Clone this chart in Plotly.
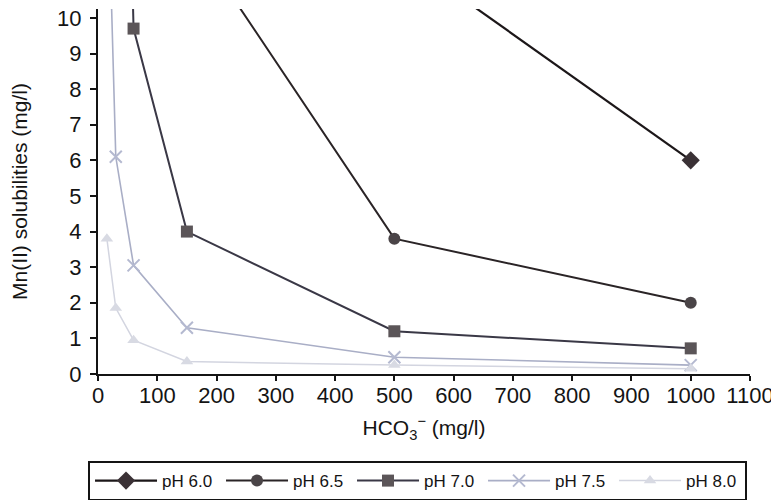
import plotly.graph_objects as go

# HCO3- concentrations (mg/l)
hco3 = [15, 30, 60, 150, 500, 1000]

# Mn(II) solubilities (mg/l) per pH; None = no point
ph60 = [None, None, None, None, 11.9, 6.0]
ph65 = [None, None, None, 12.5, 3.8, 2.0]
ph70 = [None, 30.0, 9.7, 4.0, 1.2, 0.72]
ph75 = [15.0, 6.1, 3.05, 1.3, 0.47, 0.25]
ph80 = [3.8, 1.85, 0.95, 0.35, 0.25, 0.15]

series_names = ["pH 6.0", "pH 6.5", "pH 7.0", "pH 7.5", "pH 8.0"]
series_vals = [ph60, ph65, ph70, ph75, ph80]
line_colors = ["#1c1719", "#2a2426", "#3a3846", "#a9aec6", "#d3d5e0"]
marker_colors = ["#3a3135", "#4a4447", "#5b5558", "#b4b9d0", "#d8dae3"]
symbols = ["diamond", "circle", "square", "x-thin", "triangle-up"]
sizes = [14, 12, 12, 12, 11]
widths = [2.2, 2.0, 2.0, 1.6, 1.5]

FONT = "Liberation Sans, Arial, sans-serif"

fig = go.Figure()
for name, vals, lc, mc, sym, sz, w in zip(series_names, series_vals, line_colors,
                                         marker_colors, symbols, sizes, widths):
    xs = [x for x, v in zip(hco3, vals) if v is not None]
    ys = [v for v in vals if v is not None]
    mk = dict(symbol=sym, size=sz, color=mc)
    if sym == "x-thin":
        mk["line"] = dict(color=mc, width=2)
    fig.add_trace(go.Scatter(x=xs, y=ys, name=name, mode="lines+markers",
                             line=dict(color=lc, width=w), marker=mk,
                             cliponaxis=True))

fig.update_layout(
    width=771, height=492,
    margin=dict(l=90, r=29, t=1, b=126, autoexpand=False),
    paper_bgcolor="white", plot_bgcolor="white",
    font=dict(family=FONT, color="#141414", size=21),
    showlegend=True,
    legend=dict(orientation="h", x=-0.0153, xanchor="left", y=-0.2385, yanchor="top",
                bordercolor="#141414", borderwidth=2, font=dict(size=17, family=FONT),
                entrywidth=54, entrywidthmode="pixels", tracegroupgap=0,
                itemwidth=62),
)
fig.update_xaxes(range=[0, 1100], tickmode="linear", tick0=0, dtick=100,
                 ticks="outside", ticklen=5, tickwidth=2, tickcolor="#141414",
                 showline=True, linecolor="#141414", linewidth=2,
                 showgrid=False, zeroline=False, automargin=False,
                 ticklabelstandoff=-4, ticklabeloverflow="allow",
                 tickfont=dict(size=22, family=FONT),
                 title=dict(text="HCO<sub>3</sub><sup>−</sup> (mg/l)", standoff=13,
                            font=dict(size=21, family=FONT)))
fig.update_yaxes(range=[0, 10.25], tickmode="linear", tick0=0, dtick=1,
                 ticks="outside", ticklen=6, tickwidth=2, tickcolor="#141414",
                 showline=True, linecolor="#141414", linewidth=2,
                 showgrid=False, zeroline=False, automargin=False,
                 ticklabelstandoff=4, ticklabeloverflow="allow",
                 tickfont=dict(size=22, family=FONT),
                 title=dict(text="Mn(II) solubilities (mg/l)", standoff=35,
                            font=dict(size=21, family=FONT)))

fig.write_html("out.html")
